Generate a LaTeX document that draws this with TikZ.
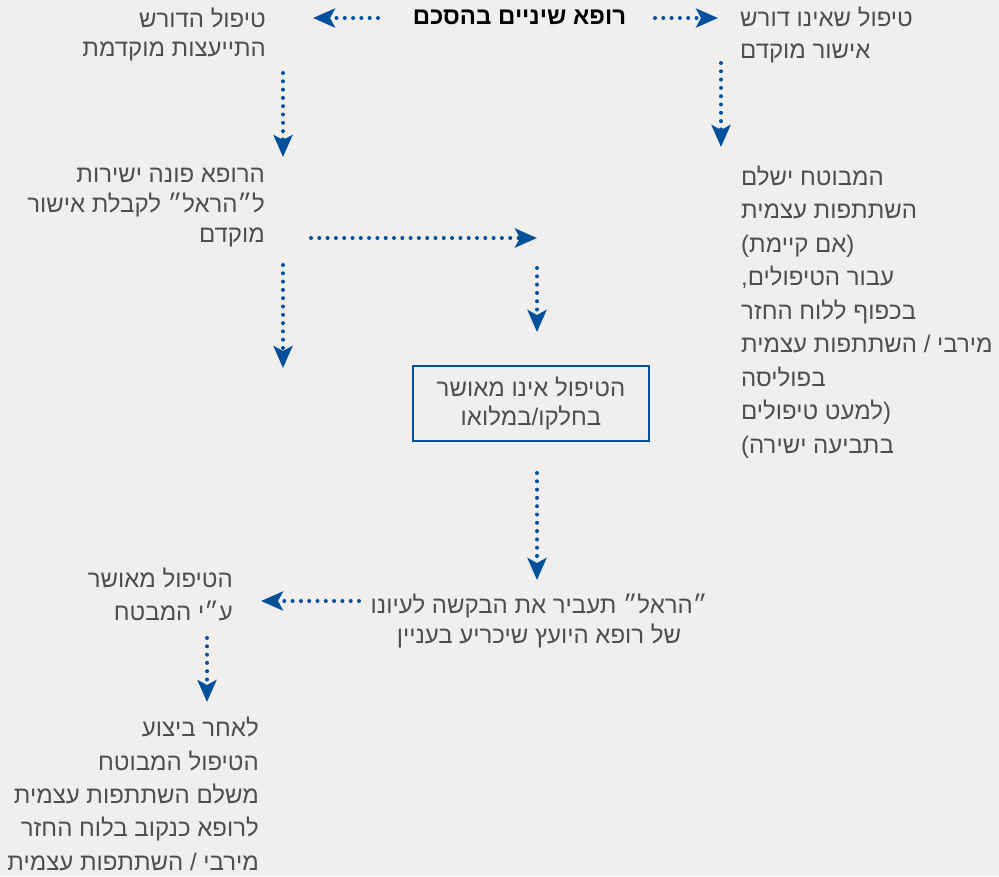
\documentclass[tikz,border=0pt]{standalone}
\usepackage{fontspec}
\usetikzlibrary{arrows.meta}
\TeXXeTstate=1
\newfontfamily\hebfont[Script=Hebrew]{Liberation Sans}
\newcommand{\rl}[1]{\beginR#1\endR}
\definecolor{bgc}{RGB}{240,239,237}
\definecolor{arrowblue}{RGB}{0,80,155}
\definecolor{txtc}{RGB}{78,78,78}
\begin{document}
\begin{tikzpicture}[x=1pt,y=-1pt,
  flow/.style={draw=arrowblue, line width=4pt, line cap=round,
    dash pattern=on 0pt off 8.3pt,
    -{Stealth[length=22pt,width=19pt,inset=5pt]}},
  heb/.style={font=\hebfont\fontsize{24}{#1}\selectfont, text=txtc, inner sep=0pt},
  hebR/.style={heb=#1, align=right, anchor=base east},
  hebL/.style={heb=#1, align=left, anchor=base west},
  titlestyle/.style={font=\hebfont\bfseries\fontsize{24}{28}\selectfont, text=black, inner sep=0pt, anchor=base},
  boxstyle/.style={draw=arrowblue, line width=2.5pt, minimum width=236pt, minimum height=75pt, inner sep=0pt}
]
\useasboundingbox (0,0) rectangle (999,876);
\path[fill=bgc] (0,0) rectangle (999,876);

% nodes (anchor = baseline of the last line)
\node[titlestyle] (title) at (519.5,24) {\rl{רופא שיניים בהסכם}};
\node[hebR=29] (tl) at (266,56) {\rl{טיפול הדורש}\\\rl{התייעצות מוקדמת}};
\node[hebL=32] (tr) at (740,58) {\rl{טיפול שאינו דורש}\\\rl{אישור מוקדם}};
\node[hebR=30] (ml) at (265,242) {\rl{הרופא פונה ישירות}\\\rl{ל״הראל״ לקבלת אישור}\\\rl{מוקדם}};
\node[hebL=33.5] (rc) at (741,453) {\rl{המבוטח ישלם}\\\rl{השתתפות עצמית}\\\rl{(אם קיימת)}\\\rl{עבור הטיפולים,}\\\rl{בכפוף ללוח החזר}\\\rl{מירבי / השתתפות עצמית}\\\rl{בפוליסה}\\\rl{(למעט טיפולים}\\\rl{בתביעה ישירה)}};
\node[boxstyle, heb=29, align=center] (box) at (531,403.5) {\rl{הטיפול אינו מאושר}\\\rl{בחלקו/במלואו}};
\node[heb=30, align=center, anchor=base] (hr) at (539,643) {\rl{״הראל״ תעביר את הבקשה לעיונו}\\\rl{של רופא היועץ שיכריע בעניין}};
\node[hebR=33] (ok) at (233,620) {\rl{הטיפול מאושר}\\\rl{ע״י המבטח}};
\node[hebR=33.3] (bl) at (259,870) {\rl{לאחר ביצוע}\\\rl{הטיפול המבוטח}\\\rl{משלם השתתפות עצמית}\\\rl{לרופא כנקוב בלוח החזר}\\\rl{מירבי / השתתפות עצמית}};

% arrow end points
\coordinate (a1s) at (378,18);  \coordinate (a1e) at (313,18);
\coordinate (a2s) at (655,18);  \coordinate (a2e) at (718,18);
\coordinate (a3s) at (283,73);  \coordinate (a3e) at (283,157);
\coordinate (a4s) at (721,63);  \coordinate (a4e) at (721,147);
\coordinate (a5s) at (311,238); \coordinate (a5e) at (537,238);
\coordinate (a6s) at (283,265); \coordinate (a6e) at (283,368);
\coordinate (a7s) at (537,268); \coordinate (a7e) at (537,332);
\coordinate (a8s) at (537,473); \coordinate (a8e) at (537,580);
\coordinate (a9s) at (359,601); \coordinate (a9e) at (261,601);
\coordinate (a10s) at (207,638); \coordinate (a10e) at (207,702);

\draw[flow] (a1s) -- (a1e);
\draw[flow] (a2s) -- (a2e);
\draw[flow] (a3s) -- (a3e);
\draw[flow] (a4s) -- (a4e);
\draw[flow] (a5s) -- (a5e);
\draw[flow] (a6s) -- (a6e);
\draw[flow] (a7s) -- (a7e);
\draw[flow] (a8s) -- (a8e);
\draw[flow] (a9s) -- (a9e);
\draw[flow] (a10s) -- (a10e);
\end{tikzpicture}
\end{document}
